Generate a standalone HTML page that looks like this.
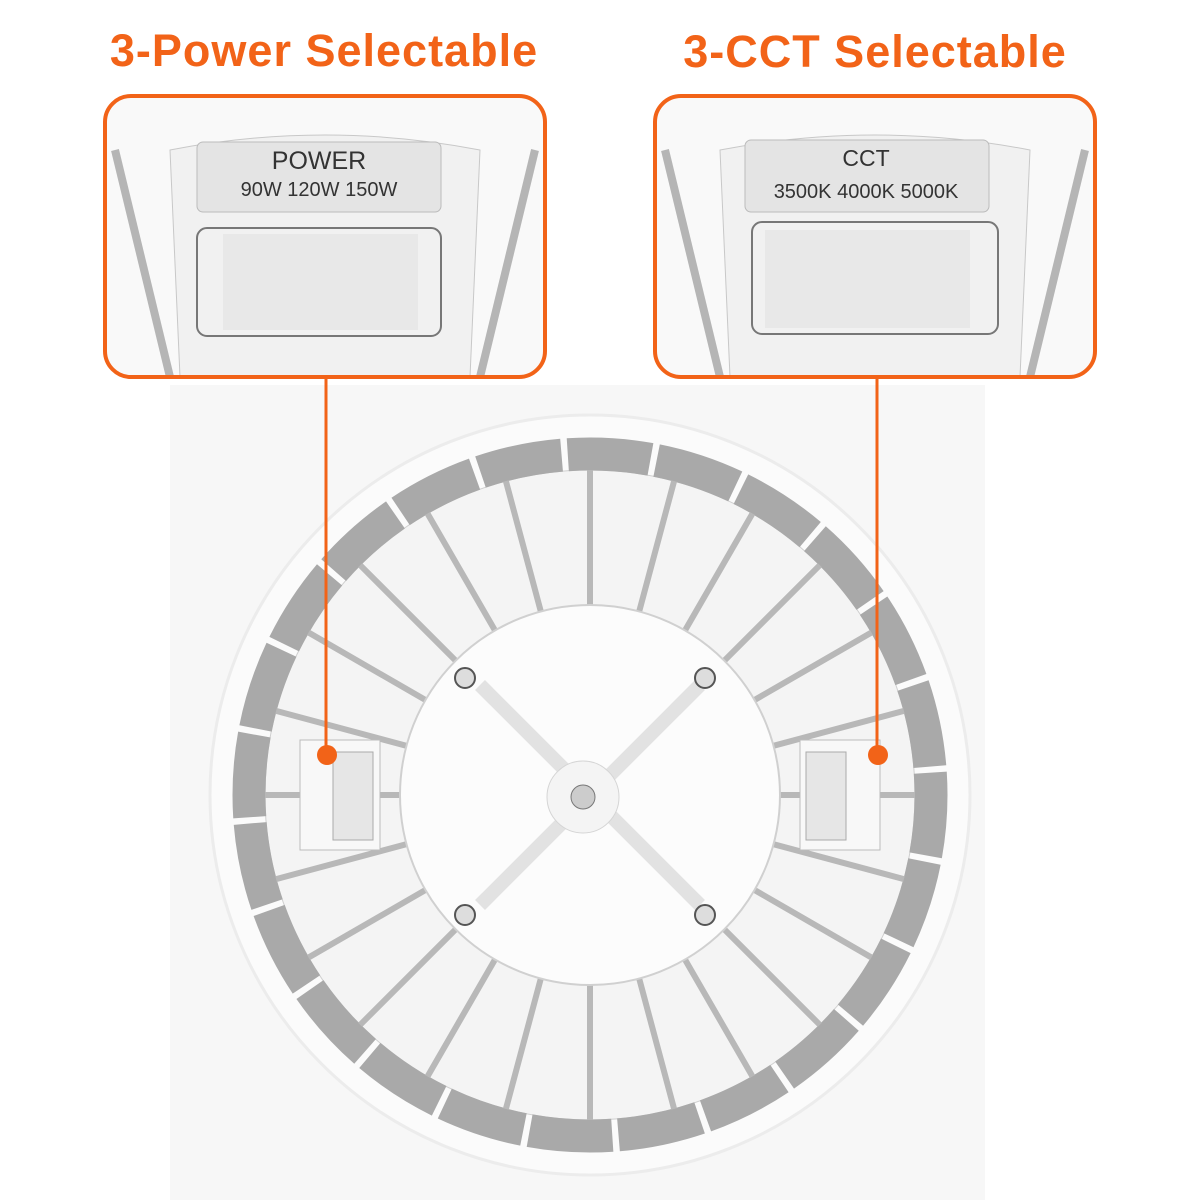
<!DOCTYPE html>
<html><head><meta charset="utf-8"><style>
html,body{margin:0;padding:0;background:#fff;}
svg{display:block}
</style></head><body>
<svg width="1200" height="1200" viewBox="0 0 1200 1200" xmlns="http://www.w3.org/2000/svg">
<rect width="1200" height="1200" fill="#fff"/>
<rect x="170" y="385" width="815" height="815" fill="#f7f7f7"/>
<!-- titles -->
<text x="324" y="66" text-anchor="middle" font-family="Liberation Sans, sans-serif" font-weight="bold" font-size="45" letter-spacing="1" fill="#f26318">3-Power Selectable</text>
<text x="875" y="67" text-anchor="middle" font-family="Liberation Sans, sans-serif" font-weight="bold" font-size="45" letter-spacing="1" fill="#f26318">3-CCT Selectable</text>

<!-- lamp -->
<circle cx="590" cy="795" r="380" fill="#fbfbfb" stroke="#ececec" stroke-width="3"/>
<circle cx="590" cy="795" r="325" fill="#f4f4f4" stroke="#cfcfcf" stroke-width="1"/>
<g transform="rotate(-3.75 590 795)">
<circle cx="590" cy="795" r="341" fill="none" stroke="#a9a9a9" stroke-width="33" stroke-dasharray="83 6.27"/>
</g>
<defs><line id="sp" x1="265" y1="795" x2="915" y2="795" stroke="#b8b8b8" stroke-width="6"/></defs>
<g>
<use href="#sp" transform="rotate(0 590 795)"/><use href="#sp" transform="rotate(15 590 795)"/>
<use href="#sp" transform="rotate(30 590 795)"/><use href="#sp" transform="rotate(45 590 795)"/>
<use href="#sp" transform="rotate(60 590 795)"/><use href="#sp" transform="rotate(75 590 795)"/>
<use href="#sp" transform="rotate(90 590 795)"/><use href="#sp" transform="rotate(105 590 795)"/>
<use href="#sp" transform="rotate(120 590 795)"/><use href="#sp" transform="rotate(135 590 795)"/>
<use href="#sp" transform="rotate(150 590 795)"/><use href="#sp" transform="rotate(165 590 795)"/>
</g>
<!-- side labels -->
<rect x="300" y="740" width="80" height="110" fill="#f8f8f8" stroke="#bbb"/>
<rect x="333" y="752" width="40" height="88" fill="#e6e6e6" stroke="#aaa"/>
<rect x="800" y="740" width="80" height="110" fill="#f8f8f8" stroke="#bbb"/>
<rect x="806" y="752" width="40" height="88" fill="#e6e6e6" stroke="#aaa"/>
<!-- hub -->
<circle cx="590" cy="795" r="190" fill="#fcfcfc" stroke="#d0d0d0" stroke-width="2"/>
<line x1="480" y1="685" x2="700" y2="905" stroke="#e2e2e2" stroke-width="14"/>
<line x1="700" y1="685" x2="480" y2="905" stroke="#e2e2e2" stroke-width="14"/>
<circle cx="583" cy="797" r="36" fill="#f4f4f4" stroke="#d5d5d5"/>
<circle cx="583" cy="797" r="12" fill="#ccc" stroke="#777"/>
<circle cx="465" cy="678" r="10" fill="#ddd" stroke="#555" stroke-width="2"/>
<circle cx="705" cy="678" r="10" fill="#ddd" stroke="#555" stroke-width="2"/>
<circle cx="465" cy="915" r="10" fill="#ddd" stroke="#555" stroke-width="2"/>
<circle cx="705" cy="915" r="10" fill="#ddd" stroke="#555" stroke-width="2"/>

<!-- boxes -->
<g font-family="Liberation Sans, sans-serif" fill="#333">
<rect x="105" y="96" width="440" height="281" rx="26" fill="#f9f9f9"/>
<path d="M170 150 Q325 120 480 150 L470 377 L180 377 Z" fill="#f1f1f1" stroke="#c8c8c8"/>
<line x1="115" y1="150" x2="170" y2="377" stroke="#b5b5b5" stroke-width="8"/>
<line x1="535" y1="150" x2="480" y2="377" stroke="#b5b5b5" stroke-width="8"/>
<rect x="197" y="142" width="244" height="70" rx="6" fill="#e4e4e4" stroke="#bbb"/>
<text x="319" y="169" text-anchor="middle" font-size="25">POWER</text>
<text x="319" y="196" text-anchor="middle" font-size="20">90W 120W 150W</text>
<rect x="197" y="228" width="244" height="108" rx="10" fill="none" stroke="#777" stroke-width="2"/>
<rect x="223" y="234" width="195" height="96" fill="#e8e8e8"/>

<rect x="655" y="96" width="440" height="281" rx="26" fill="#f9f9f9"/>
<path d="M720 150 Q875 120 1030 150 L1020 377 L730 377 Z" fill="#f1f1f1" stroke="#c8c8c8"/>
<line x1="665" y1="150" x2="720" y2="377" stroke="#b5b5b5" stroke-width="8"/>
<line x1="1085" y1="150" x2="1030" y2="377" stroke="#b5b5b5" stroke-width="8"/>
<rect x="745" y="140" width="244" height="72" rx="6" fill="#e4e4e4" stroke="#bbb"/>
<text x="866" y="166" text-anchor="middle" font-size="23">CCT</text>
<text x="866" y="198" text-anchor="middle" font-size="20">3500K 4000K 5000K</text>
<rect x="752" y="222" width="246" height="112" rx="10" fill="none" stroke="#777" stroke-width="2"/>
<rect x="765" y="230" width="205" height="98" fill="#e8e8e8"/>
</g>
<rect x="105" y="96" width="440" height="281" rx="26" fill="none" stroke="#f26318" stroke-width="4"/>
<rect x="655" y="96" width="440" height="281" rx="26" fill="none" stroke="#f26318" stroke-width="4"/>
<!-- connectors -->
<line x1="326" y1="377" x2="326" y2="752" stroke="#f26318" stroke-width="3"/>
<circle cx="327" cy="755" r="10" fill="#f26318"/>
<line x1="877" y1="377" x2="877" y2="752" stroke="#f26318" stroke-width="3"/>
<circle cx="878" cy="755" r="10" fill="#f26318"/>
</svg>
</body></html>
